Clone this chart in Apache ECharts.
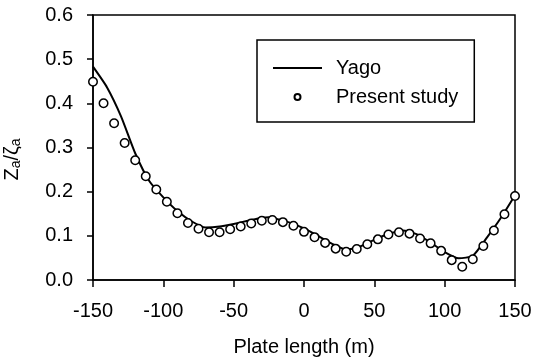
<!DOCTYPE html>
<html>
<head>
<meta charset="utf-8">
<script src="https://cdn.jsdelivr.net/npm/echarts@6/dist/echarts.min.js"></script>
<style>
  html, body { margin: 0; padding: 0; background: #fff; }
  #chart { width: 533px; height: 359px; }
</style>
</head>
<body>
<div id="chart"></div>
<script>
// Yago solution (solid line)
const yagoX = [-150, -140, -130, -120, -110, -100, -90, -80, -70, -60, -50, -40, -30, -25, -20, -10, 0, 10, 20, 30, 40, 50, 60, 70, 80, 90, 100, 110, 120, 130, 140, 150];
const yagoY = [0.483, 0.436, 0.370, 0.287, 0.224, 0.187, 0.156, 0.133, 0.119, 0.121, 0.127, 0.134, 0.141, 0.142, 0.139, 0.130, 0.117, 0.100, 0.082, 0.069, 0.076, 0.091, 0.104, 0.112, 0.104, 0.085, 0.063, 0.049, 0.055, 0.096, 0.141, 0.192];

// Present study (open circles)
const studyX = [-150, -142.5, -135, -127.5, -120, -112.5, -105, -97.5, -90, -82.5, -75, -67.5, -60, -52.5, -45, -37.5, -30, -22.5, -15, -7.5, 0, 7.5, 15, 22.5, 30, 37.5, 45, 52.5, 60, 67.5, 75, 82.5, 90, 97.5, 105, 112.5, 120, 127.5, 135, 142.5, 150];
const studyY = [0.449, 0.400, 0.355, 0.310, 0.271, 0.235, 0.205, 0.177, 0.151, 0.129, 0.116, 0.108, 0.108, 0.115, 0.121, 0.128, 0.134, 0.136, 0.131, 0.123, 0.109, 0.097, 0.084, 0.071, 0.064, 0.070, 0.081, 0.092, 0.103, 0.108, 0.105, 0.094, 0.083, 0.066, 0.045, 0.030, 0.047, 0.077, 0.112, 0.149, 0.190];

const xTicks = [-150, -100, -50, 0, 50, 100, 150];
const yTicks = [0.0, 0.1, 0.2, 0.3, 0.4, 0.5, 0.6];

const font = 'Liberation Sans, Arial, Helvetica, sans-serif';
const chart = echarts.init(document.getElementById('chart'));

chart.setOption({
  animation: false,
  backgroundColor: '#fff',
  grid: {
    left: 93, right: 18, top: 15, bottom: 79,
    containLabel: false, outerBoundsMode: 'none',
    show: true, borderColor: '#000', borderWidth: 1.5, backgroundColor: 'transparent'
  },
  legend: {
    left: 257, top: 40, width: 218,
    orient: 'vertical',
    backgroundColor: '#fff',
    borderColor: '#000', borderWidth: 1.5, borderRadius: 0,
    padding: [18, 16, 15, 16],
    itemWidth: 49, itemHeight: 6, itemGap: 9,
    textStyle: { fontFamily: font, fontSize: 20, lineHeight: 20, color: '#000', padding: [0, 0, 0, 9] },
    data: [
      { name: 'Yago', icon: 'path://M0,0 L49,0 L49,2 L0,2 Z' },
      { name: 'Present study', icon: 'circle' }
    ]
  },
  xAxis: {
    type: 'value', min: -150, max: 150, interval: 50,
    name: 'Plate length (m)', nameLocation: 'middle', nameGap: 57,
    nameTextStyle: { fontFamily: font, fontSize: 20, color: '#000' },
    axisLine: { onZero: false, lineStyle: { color: '#000', width: 1.5 } },
    axisTick: { inside: false, length: 7, lineStyle: { color: '#000', width: 1.5 } },
    axisLabel: { margin: 21, fontFamily: font, fontSize: 20, color: '#000',
      formatter: v => xTicks.includes(v) ? String(v) : '' },
    splitLine: { show: false }
  },
  yAxis: {
    type: 'value', min: 0, max: 0.6, interval: 0.1,
    name: '{m|Z}{s|a}{m|/ζ}{s|a}', nameLocation: 'middle', nameGap: 70, nameRotate: 90,
    nameTextStyle: {
      padding: [0, 24, 0, 0],
      rich: {
        m: { fontFamily: font, fontSize: 20, color: '#000' },
        s: { fontFamily: font, fontSize: 14, color: '#000', verticalAlign: 'bottom', padding: [8, 0, 0, 0] }
      }
    },
    axisLine: { onZero: false, lineStyle: { color: '#000', width: 1.5 } },
    axisTick: { inside: false, length: 6, lineStyle: { color: '#000', width: 1.5 } },
    axisLabel: { margin: 20, fontFamily: font, fontSize: 20, color: '#000',
      formatter: v => { const t = yTicks.find(k => Math.abs(k - v) < 1e-9); return t === undefined ? '' : t.toFixed(1); } },
    splitLine: { show: false }
  },
  series: [
    {
      name: 'Yago', type: 'line', symbol: 'none', smooth: 0.2,
      lineStyle: { color: '#000', width: 2 },
      itemStyle: { color: '#000' },
      data: yagoX.map((x, i) => [x, yagoY[i]]),
      z: 2
    },
    {
      name: 'Present study', type: 'scatter', symbol: 'circle', symbolSize: 8.5,
      itemStyle: { color: '#fff', borderColor: '#000', borderWidth: 1.5, opacity: 1 },
      data: studyX.map((x, i) => [x, studyY[i]]),
      z: 3
    }
  ]
});
</script>
</body>
</html>
